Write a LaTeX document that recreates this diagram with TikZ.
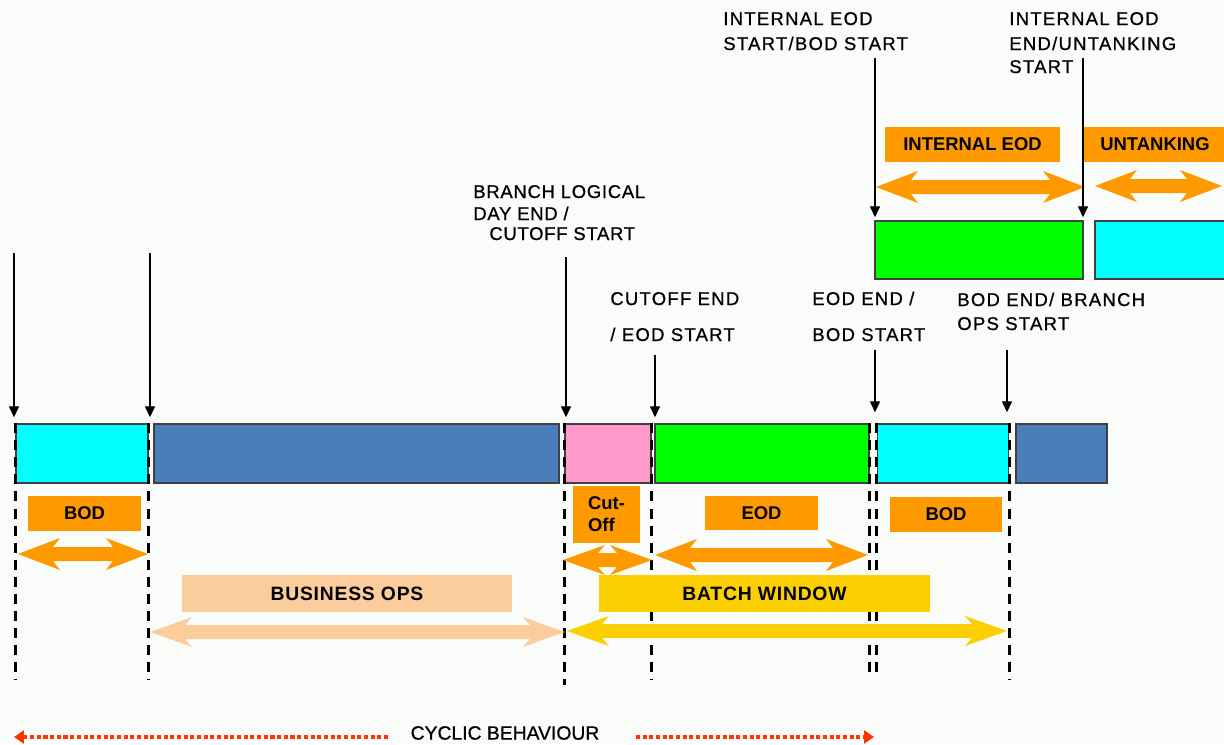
\documentclass[tikz,border=0pt]{standalone}
\usepackage{fontspec}
\setmainfont{Liberation Sans}
\usetikzlibrary{arrows.meta}
\definecolor{bg}{RGB}{250,252,250}
\definecolor{cyanb}{RGB}{0,255,255}
\definecolor{blueb}{RGB}{74,126,187}
\definecolor{pinkb}{RGB}{255,153,204}
\definecolor{greenb}{RGB}{0,255,0}
\definecolor{orng}{RGB}{255,153,0}
\definecolor{peach}{RGB}{251,205,156}
\definecolor{yell}{RGB}{252,208,0}
\definecolor{redd}{RGB}{255,51,0}
\newcommand\fatarr[5]{%
  \fill[#4] (#1,#3) -- (#1+42,#3-#5) -- (#1+35,#3-7) -- (#2-35,#3-7) -- (#2-42,#3-#5) -- (#2,#3)
    -- (#2-42,#3+#5) -- (#2-35,#3+7) -- (#1+35,#3+7) -- (#1+42,#3+#5) -- cycle;}
\newcommand\annfont{\fontsize{10.5}{12}\selectfont\addfontfeatures{LetterSpace=7,FakeBold=0.8}}
\newcommand\annfontb{\fontsize{10.5}{12}\selectfont\addfontfeatures{LetterSpace=4,FakeBold=0.8}}
\tikzset{
  box/.style={draw=black!75, line width=0.8pt, inner sep=0pt, minimum height=1.18cm},
  lab/.style={fill=orng, inner sep=0pt, font=\fontsize{10.5}{12}\selectfont\bfseries},
  biglab/.style={inner sep=0pt, minimum height=0.74cm, font=\fontsize{11}{13}\selectfont\bfseries\addfontfeatures{LetterSpace=4}},
  ann/.style={anchor=base west, inner sep=0pt, font=\annfont},
  annb/.style={anchor=base west, inner sep=0pt, font=\annfontb},
  thinarr/.style={-{Triangle[length=0.22cm,width=0.2cm]}, line width=0.75pt},
  vdash/.style={line width=1.6pt, dash pattern=on 5.7pt off 4pt},
  cycarr/.style={redd, line width=2pt, dash pattern=on 2.3pt off 1.5pt, -{Triangle[length=0.2cm,width=0.26cm]}}
}
\begin{document}
\begin{tikzpicture}[x=0.02cm, y=-0.02cm]
\fill[bg] (0,0) rectangle (1224,744);
\useasboundingbox (0,0) rectangle (1224,744);

% main row boxes
\node[box, fill=cyanb, minimum width=2.64cm] (bod1) at (82,453.5) {};
\node[box, fill=blueb, minimum width=8.10cm] (ops1) at (356.5,453.5) {};
\node[box, fill=pinkb, minimum width=1.72cm] (cut) at (608,453.5) {};
\node[box, fill=greenb, minimum width=4.28cm] (eod) at (762,453.5) {};
\node[box, fill=cyanb, minimum width=2.62cm] (bod2) at (943,453.5) {};
\node[box, fill=blueb, minimum width=1.82cm] (ops2) at (1061.5,453.5) {};

% top row boxes
\node[box, fill=greenb, minimum width=4.16cm, minimum height=1.16cm] (ieod) at (979,250) {};
\node[box, fill=cyanb, minimum width=2.84cm, minimum height=1.16cm] (utk) at (1166,250) {};

% dashed guides
\coordinate (dl) at (0,680);
\coordinate (dm) at (0,685);
\coordinate (ds) at (0,675);
\draw[vdash] (bod1.north west) -- (bod1.north west |- dl);
\draw[vdash] (bod1.north east) -- (bod1.north east |- dl);
\draw[vdash] (cut.north west) -- (cut.north west |- dm);
\draw[vdash] (cut.north east) -- (cut.north east |- dl);
\draw[vdash] (eod.north east) -- (eod.north east |- ds);
\draw[vdash] (bod2.north west) -- (bod2.north west |- ds);
\draw[vdash] (bod2.north east) -- (bod2.north east |- dl);

% orange labels
\node[lab, minimum width=2.26cm, minimum height=0.70cm] (lbod1) at (84.5,513.5) {BOD};
\node[lab, minimum width=1.34cm, minimum height=1.14cm, align=left, font=\fontsize{10.5}{12.5}\selectfont\bfseries] (lcut) at (606.5,514.5) {Cut-\\Off};
\node[lab, minimum width=2.26cm, minimum height=0.68cm] (leod) at (761.5,513) {EOD};
\node[lab, minimum width=2.24cm, minimum height=0.70cm] (lbod2) at (946,514.5) {BOD};
\node[lab, minimum width=3.50cm, minimum height=0.70cm] (lieod) at (972.5,144.5) {INTERNAL EOD};
\node[lab, minimum width=2.84cm, minimum height=0.70cm] (lutk) at (1155,144.5) {UNTANKING};

% fat arrows
\fatarr{18}{148}{554}{orng}{16}
\fatarr{563}{652}{560}{orng}{15}
\fatarr{655}{868}{555}{orng}{16}
\fatarr{876}{1085}{187}{orng}{16}
\fatarr{1095}{1222}{186}{orng}{16}

\node[biglab, fill=peach, minimum width=6.60cm] (lbiz) at (347,593.5) {BUSINESS OPS};
\node[biglab, fill=yell, minimum width=6.62cm] (lbatch) at (764.5,593.5) {BATCH WINDOW};
\fatarr{150}{565}{632}{peach}{15}
\fatarr{567}{1007}{631}{yell}{15}

% annotation texts
\node[ann] (t1a) at (723,25) {INTERNAL EOD};
\node[ann] (t1b) at (723,50) {START/BOD START};
\node[ann] (t2a) at (1009,25) {INTERNAL EOD};
\node[ann] (t2b) at (1009,50) {END/UNTANKING};
\node[ann] (t2c) at (1009,73) {START};
\node[annb] (t3a) at (473,198) {BRANCH LOGICAL};
\node[annb] (t3b) at (473,220) {DAY END /};
\node[annb] (t3c) at (489,240) {CUTOFF START};
\node[ann] (t4a) at (610,305) {CUTOFF END};
\node[ann] (t4b) at (610,341) {/ EOD START};
\node[ann] (t5a) at (812,305) {EOD END /};
\node[ann] (t5b) at (812,341) {BOD START};
\node[ann] (t6a) at (957,306) {BOD END/ BRANCH};
\node[ann] (t6b) at (957,330) {OPS START};

% thin arrows
\coordinate (s1) at (14,253);
\coordinate (s2) at (150,253);
\coordinate (s3) at (566,257);
\coordinate (s4) at (655,355);
\coordinate (s5) at (875,350);
\coordinate (s6) at (1007,350);
\coordinate (s7) at (875,58);
\coordinate (s8) at (1083,58);
\draw[thinarr, shorten >=0.12cm] (s1) -- (s1 |- bod1.north);
\draw[thinarr, shorten >=0.12cm] (s2) -- (s2 |- bod1.north);
\draw[thinarr, shorten >=0.12cm] (s3) -- (s3 |- cut.north);
\draw[thinarr, shorten >=0.12cm] (s4) -- (s4 |- eod.north);
\draw[thinarr, shorten >=0.22cm] (s5) -- (s5 |- bod2.north);
\draw[thinarr, shorten >=0.22cm] (s6) -- (s6 |- bod2.north);
\draw[thinarr, shorten >=0.06cm] (s7) -- (s7 |- ieod.north);
\draw[thinarr, shorten >=0.06cm] (s8) -- (s8 |- ieod.north);

% cyclic behaviour
\node[inner sep=0pt, font=\fontsize{11}{13}\selectfont\addfontfeatures{FakeBold=0.8}] (cyc) at (505,733) {CYCLIC BEHAVIOUR};
\coordinate (cls) at (388,737);
\coordinate (cl) at (14,737);
\coordinate (crs) at (636,737);
\coordinate (cr) at (874,737);
\draw[cycarr] (cls) -- (cl);
\draw[cycarr] (crs) -- (cr);
\end{tikzpicture}
\end{document}
